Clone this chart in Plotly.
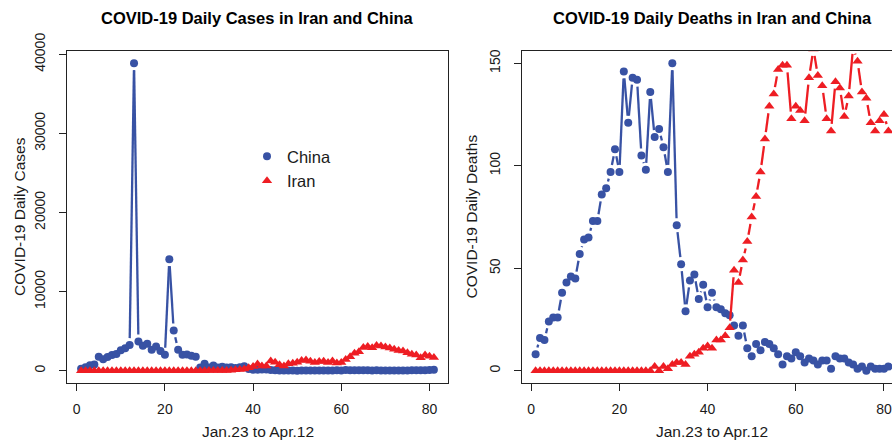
import math
import plotly.graph_objects as go

# ---- data: daily figures, day 1 = Jan 23, day 81 = Apr 12 ----
days = list(range(1, 82))

china_cases = [259, 444, 688, 769, 1771, 1459, 1737, 1981, 2099, 2589,
               2825, 3235, 38870, 3694, 3143, 3399, 2656, 3062, 2478, 2015,
               14108, 5090, 2641, 2009, 2048, 1886, 1749, 394, 889, 397,
               648, 409, 508, 406, 433, 327, 427, 573, 202, 125,
               119, 139, 143, 99, 44, 40, 19, 24, 15, 8,
               11, 20, 16, 21, 13, 34, 39, 41, 46, 39,
               78, 47, 67, 55, 54, 45, 31, 48, 36, 35,
               31, 19, 30, 39, 32, 62, 63, 42, 46, 99, 108]

iran_cases = [0, 0, 0, 0, 0, 0, 0, 0, 0, 0,
              0, 0, 0, 0, 0, 0, 0, 0, 0, 0,
              0, 0, 0, 0, 0, 0, 0, 2, 3, 13,
              10, 15, 18, 34, 44, 106, 143, 205, 385, 523,
              835, 586, 591, 1234, 1076, 743, 595, 881, 958, 1075,
              1289, 1365, 1209, 1053, 1178, 1192, 1046, 1237, 966, 1028,
              1411, 1762, 2206, 2389, 2926, 3076, 2901, 3186, 3110, 2987,
              2875, 2715, 2560, 2483, 2274, 2089, 1997, 1634, 1972, 1837, 1657]

china_deaths = [8, 16, 15, 24, 26, 26, 38, 43, 46, 45,
                57, 64, 65, 73, 73, 86, 89, 97, 108, 97,
                146, 121, 143, 142, 105, 98, 136, 114, 118, 109,
                97, 150, 71, 52, 29, 44, 47, 35, 42, 31,
                38, 31, 30, 28, 27, 22, 17, 22, 11, 7,
                13, 10, 14, 13, 11, 8, 3, 7, 6, 9,
                7, 4, 6, 5, 3, 5, 5, 1, 7, 6,
                6, 4, 3, 1, 2, 0, 2, 1, 1, 1, 2]

iran_deaths = [0, 0, 0, 0, 0, 0, 0, 0, 0, 0,
               0, 0, 0, 0, 0, 0, 0, 0, 0, 0,
               0, 0, 0, 0, 0, 0, 0, 2, 0, 2,
               1, 3, 4, 4, 3, 7, 8, 9, 11, 12,
               11, 15, 15, 17, 21, 49, 43, 54, 63, 75,
               85, 97, 113, 129, 135, 147, 149, 149, 123, 129,
               127, 122, 143, 157, 144, 139, 123, 117, 141, 138,
               124, 134, 158, 151, 136, 133, 121, 117, 122, 125, 117]

x_ticks = [0, 20, 40, 60, 80]
cases_ticks = [0, 10000, 20000, 30000, 40000]
deaths_ticks = [0, 50, 100, 150]
deaths_limits = [0, 150]

# ---- styling ----
W, H = 892, 442
BLUE = "#3852A4"
RED = "#EE1D23"
FONT = "Liberation Sans, Arial, sans-serif"
INK = "#1a1a1a"

# plot boxes in pixels: (left, right, top, bottom)
BOX_L = (67.0, 448.0, 51.0, 383.0)
BOX_R = (521.5, 892.0, 51.0, 383.0)


def padded(lo, hi, frac=0.04):
    pad = (hi - lo) * frac
    return [lo - pad, hi + pad]


x_range_l = padded(min(days), max(days))
px_per_day = (BOX_L[1] - BOX_L[0]) / (x_range_l[1] - x_range_l[0])
x_range_r = [x_range_l[0], x_range_l[0] + (BOX_R[1] - BOX_R[0]) / px_per_day]
y_range_cases = padded(0, max(china_cases + iran_cases))
y_range_deaths = padded(*deaths_limits)


def dom_x(box):
    return [box[0] / W, box[1] / W]


def dom_y(box):
    return [1 - box[3] / H, 1 - box[2] / H]


def broken_line(xs, ys, xr, yr, box, gap=7.0):
    """Connecting segments that stop short of each point (points-and-lines look)."""
    sx = (box[1] - box[0]) / (xr[1] - xr[0])
    sy = (box[3] - box[2]) / (yr[1] - yr[0])
    out_x, out_y = [], []
    for i in range(len(xs) - 1):
        dx, dy = xs[i + 1] - xs[i], ys[i + 1] - ys[i]
        length = math.hypot(dx * sx, dy * sy)
        if length <= 2 * gap:
            continue
        f = gap / length
        out_x += [xs[i] + f * dx, xs[i + 1] - f * dx, None]
        out_y += [ys[i] + f * dy, ys[i + 1] - f * dy, None]
    return out_x, out_y


fig = go.Figure()

panels = [
    ("x", "y", china_cases, iran_cases, x_range_l, y_range_cases, BOX_L, True),
    ("x2", "y2", china_deaths, iran_deaths, x_range_r, y_range_deaths, BOX_R, False),
]
for xa, ya, china, iran, xr, yr, box, legend in panels:
    for name, vals, color, symbol, msize in [
        ("China", china, BLUE, "circle", 8),
        ("Iran", iran, RED, "triangle-up", 9),
    ]:
        lx, ly = broken_line(days, vals, xr, yr, box)
        fig.add_trace(go.Scatter(
            x=lx, y=ly, xaxis=xa, yaxis=ya, mode="lines",
            line=dict(color=color, width=2.3), showlegend=False,
            hoverinfo="skip", connectgaps=False))
        fig.add_trace(go.Scatter(
            x=days, y=vals, xaxis=xa, yaxis=ya, mode="markers", name=name,
            marker=dict(color=color, symbol=symbol, size=msize, line=dict(width=0)),
            showlegend=legend))

axis_common = dict(
    showgrid=False, zeroline=False, showline=True, linecolor="#222222",
    linewidth=1, ticks="outside", ticklen=7, tickwidth=1, tickcolor="#222222",
    tickfont=dict(family=FONT, size=14, color=INK), automargin=False,
)

fig.update_layout(
    width=W, height=H,
    margin=dict(l=0, r=0, t=0, b=0, pad=0, autoexpand=False),
    paper_bgcolor="white", plot_bgcolor="white",
    font=dict(family=FONT, color=INK),
    xaxis=dict(domain=dom_x(BOX_L), range=x_range_l, anchor="y", mirror=True,
               tickvals=x_ticks, ticklabelstandoff=6, **axis_common),
    yaxis=dict(domain=dom_y(BOX_L), range=y_range_cases, anchor="x", mirror=True,
               tickvals=cases_ticks, ticktext=[str(v) for v in cases_ticks],
               tickangle=-90, ticklabelstandoff=8, **axis_common),
    xaxis2=dict(domain=dom_x(BOX_R), range=x_range_r, anchor="y2", mirror=True,
                tickvals=x_ticks, ticklabelstandoff=6, **axis_common),
    yaxis2=dict(domain=dom_y(BOX_R), range=y_range_deaths, anchor="x2", mirror=False,
                tickvals=deaths_ticks, ticktext=[str(v) for v in deaths_ticks],
                tickangle=-90, ticklabelstandoff=8, **axis_common),
    legend=dict(x=247 / W, y=1 - 139 / H, xanchor="left", yanchor="top",
                bgcolor="rgba(0,0,0,0)", font=dict(family=FONT, size=16.5, color=INK),
                itemsizing="trace", tracegroupgap=0),
    showlegend=True,
)

annotations = []
for box, title, ytitle, ygap in [
    (BOX_L, "COVID-19 Daily Cases in Iran and China", "COVID-19 Daily Cases", 48),
    (BOX_R, "COVID-19 Daily Deaths in Iran and China", "COVID-19 Daily Deaths", 51),
]:
    # full panel width, including the part of the right panel past the page edge
    cx = box[0] + (BOX_L[1] - BOX_L[0]) / 2
    annotations.append(dict(
        text=f"<b>{title}</b>", x=cx / W, y=1 - 18 / H, xref="paper", yref="paper",
        xanchor="center", yanchor="middle", showarrow=False,
        font=dict(family=FONT, size=16.5, color="black")))
    annotations.append(dict(
        text="Jan.23 to Apr.12", x=cx / W, y=1 - 431 / H, xref="paper", yref="paper",
        xanchor="center", yanchor="middle", showarrow=False,
        font=dict(family=FONT, size=15.5, color=INK)))
    annotations.append(dict(
        text=ytitle, x=(box[0] - ygap) / W, y=1 - ((box[2] + box[3]) / 2) / H,
        xref="paper", yref="paper", xanchor="center", yanchor="middle",
        textangle=-90, showarrow=False,
        font=dict(family=FONT, size=15.5, color=INK)))
fig.update_layout(annotations=annotations)

fig.write_html("out.html")
